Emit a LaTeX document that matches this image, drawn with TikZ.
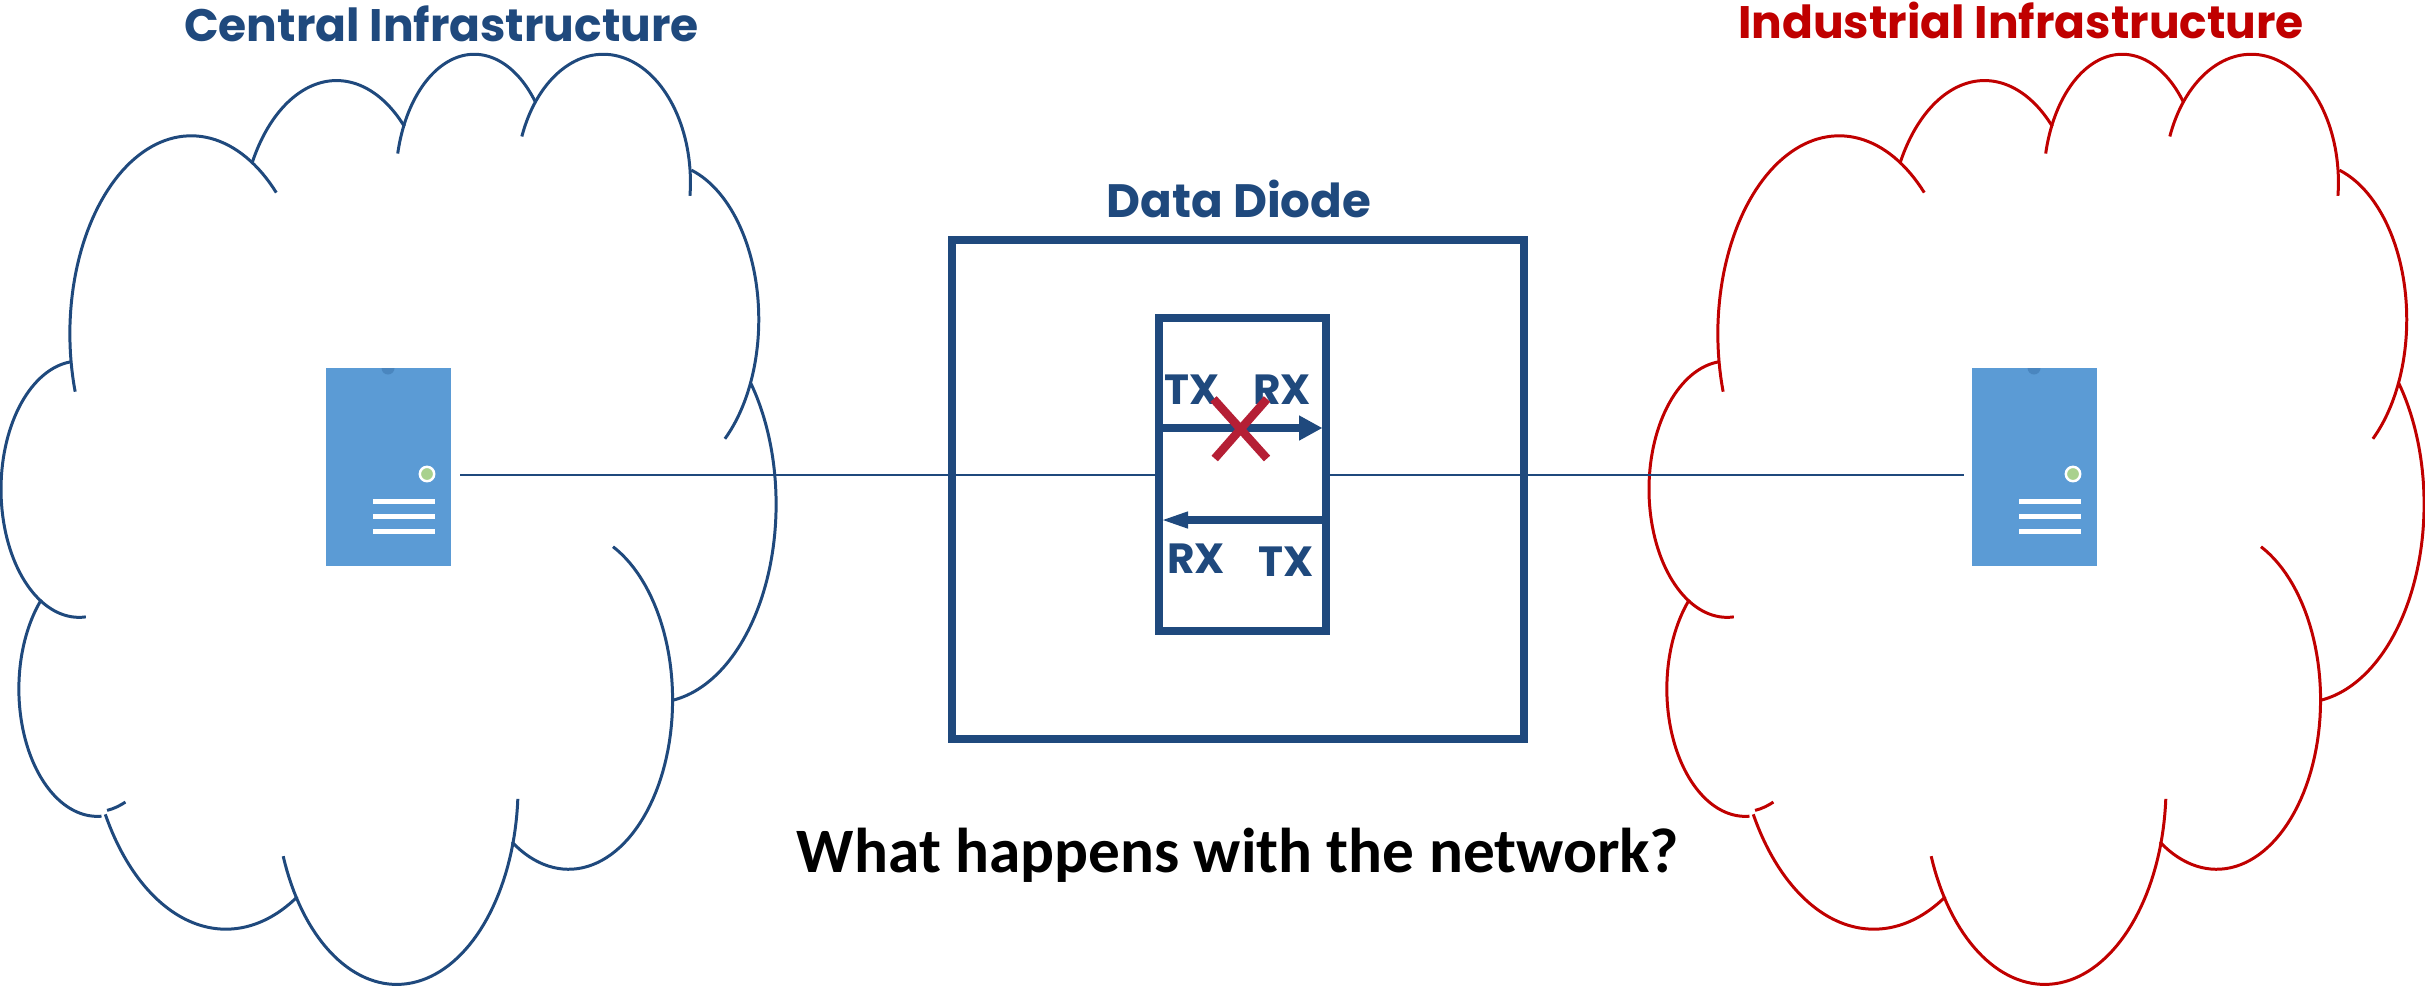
\documentclass[tikz,border=0pt]{standalone}
\usepackage{fontspec}
\setmainfont{Poppins}
\newfontfamily\qfont{Carlito}
\definecolor{navy}{HTML}{1F497D}
\definecolor{crimson}{HTML}{C00000}
\definecolor{srv}{HTML}{5B9BD5}
\definecolor{srvtop}{HTML}{4A86BF}
\definecolor{led}{HTML}{A9D18E}
\definecolor{cross}{HTML}{B51F35}
\tikzset{
  px/.style={x=0.01cm,y=-0.01cm},
  cloudline/.style={line width=0.85pt},
  titletext/.style={font=\bfseries\fontsize{12.95}{18}\selectfont,inner sep=0,anchor=base},
  port/.style={font=\bfseries\fontsize{12}{13}\selectfont,text=navy,inner sep=0,anchor=base},
  wire/.style={draw=navy,line width=0.55pt},
  frame/.style={draw=navy,inner sep=0,outer sep=0},
  srvbody/.style={fill=srv,draw=none},
  srvbar/.style={fill=white,draw=none},
  flowbar/.style={navy,line width=2.4pt},
  crossbar/.style={cross,line width=2.4pt},
}
\newcommand{\lobe}[6]{\draw[cloudline] plot[domain=#5:#6,samples=70] ({#1+#3*cos(\x)},{#2-#4*sin(\x)});}
\newcommand{\cloudlobes}[1]{%
\begin{scope}[x=0.0051020cm,y=-0.0033333cm,#1]
\lobe{375}{1003}{238}{595}{197}{45.5}
\lobe{660}{712}{188}{470}{151.5}{45}
\lobe{930}{548}{154}{385}{167}{39}
\lobe{1183}{548}{171}{385}{159}{-6}
\lobe{1300}{960}{188}{470}{72.7}{-49.7}
\lobe{1283}{1515}{239}{596}{37.4}{-81}
\lobe{1115}{2103}{204}{509}{64.7}{-123}
\lobe{778}{2362}{238}{596}{-3.7}{-159.3}
\lobe{443}{2110}{272}{682}{-59}{-150.4}
\lobe{191}{2070}{154}{383}{-87}{-224.4}
\draw[cloudline] (210,2435) .. controls (224,2430) and (236,2420) .. (246,2410);
\lobe{155}{1470}{153}{385}{-85}{-263.7}
\end{scope}}
\newcommand{\serverbox}[2]{%
\begin{scope}[shift={(#1,0)}]
\fill[srvbody] (325.7,368) rectangle (450.7,565.7);
\fill[srvtop] (381.5,368) arc[start angle=180,end angle=0,radius=6.5] -- cycle;
\fill[led,draw=white,line width=0.7pt] (427,474) circle[radius=7.2];
\fill[srvbar] (373,499) rectangle (435,503.5);
\fill[srvbar] (373,514) rectangle (435,518.5);
\fill[srvbar] (373,529) rectangle (435,533.5);
\coordinate (#2) at (460,474.6);
\end{scope}}
\begin{document}
\begin{tikzpicture}[px]
\useasboundingbox (0,0) rectangle (2425,990);
\cloudlobes{draw=navy}
\begin{scope}[shift={(16.47cm,0)}]\cloudlobes{draw=crimson}\end{scope}
\serverbox{0}{srvA}
\serverbox{1646}{srvB}
\coordinate (tgt) at (1964,474.6);
\node[titletext,text=navy] (tc) at (441.5,41.7) {Central Infrastructure};
\node[titletext,text=crimson] (ti) at (2021,38) {Industrial Infrastructure};
\node[titletext,text=navy,font=\bfseries\fontsize{13.3}{18}\selectfont] (td) at (1239,217.4) {Data Diode};
\coordinate (wa) at (1200,474.6);
\draw[wire] (srvA) -- (wa);
\draw[wire] (wa) -- (tgt);
\node[frame,line width=2.27pt,fill=none,minimum width=5.709cm,minimum height=4.985cm] (outer) at (1238,489.8) {};
\node[frame,line width=2.27pt,fill=white,minimum width=1.664cm,minimum height=3.127cm] (inner) at (1242.6,474.2) {};
\coordinate (a1s) at (inner.west|-0,428);\coordinate (a1b) at (1299,428);\coordinate (a1t) at (1322,428);
\coordinate (a2s) at (inner.east|-0,520);\coordinate (a2b) at (1188,520);\coordinate (a2t) at (1163,520);
\draw[flowbar] (a1s) -- (a1b);
\fill[navy] (a1t) -- (1299,415.3) -- (1299,440.7) -- cycle;
\draw[flowbar] (a2s) -- (a2b);
\fill[navy] (a2t) -- (1188,511.3) -- (1188,528.7) -- cycle;
\node[port] (tx1) at (1192,404.3) {TX};
\node[port] (rx1) at (1282,404.3) {RX};
\node[port] (rx2) at (1196,573.3) {RX};
\node[port] (tx2) at (1286,576) {TX};
\draw[crossbar] (1213.5,399) -- (1267,458.5);
\draw[crossbar] (1267,399) -- (1214.7,458.5);
\node[font=\qfont\bfseries\fontsize{18}{20}\selectfont,inner sep=0,anchor=base] (q) at (1238,872.7) {What happens with the network?};
\end{tikzpicture}
\end{document}
